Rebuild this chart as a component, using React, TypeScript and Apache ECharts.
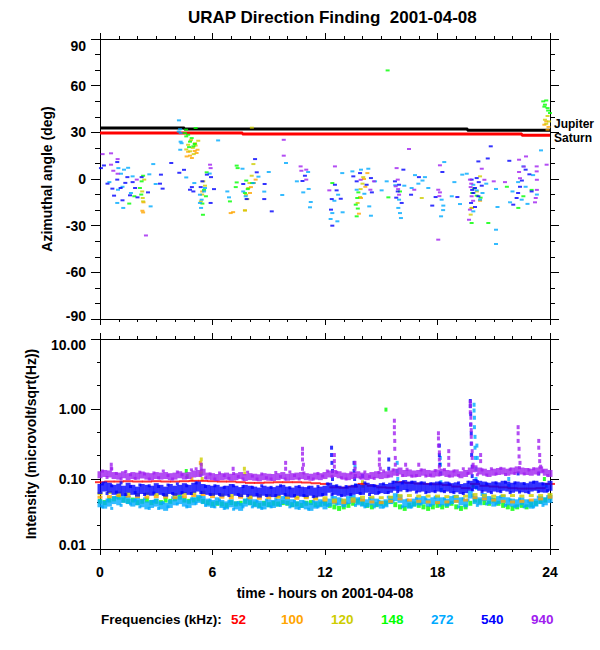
import React, { useEffect, useRef } from "react";
import * as echarts from "echarts";

const TITLE = "URAP Direction Finding  2001-04-08";
const X_NAME = "time - hours on 2001-04-08";
const Y_NAME_TOP = "Azimuthal angle (deg)";
const Y_NAME_BOTTOM = "Intensity (microvolt/sqrt(Hz))";
const LEGEND_TITLE = "Frequencies (kHz):";
const FREQ_LABELS = ["52", "100", "120", "148", "272", "540", "940"];
const FREQ_COLORS = ["#ff0000", "#ffa500", "#cdcd00", "#00ff00", "#00aaff", "#0000ff", "#a020f0"];

// planet tracks (hour, azimuth deg)
const jupiterTrack = [[0, 32.8], [4.5, 32.8], [4.5, 32.1], [19.6, 32.1], [19.6, 31.3], [24, 31.3]];
const saturnTrack = [[0, 29.5], [7.6, 29.5], [7.6, 28.9], [22.5, 28.9], [22.5, 28.2], [24, 28.2]];

// azimuth scatter points (hour, deg)
const az100 = [[4.62,14.5],[4.8,15],[4.9,13.5],[5.2,18.8],[5.15,16.7],[5.05,18],[4.7,17.5],[2.26,-20.4],[2.3,-21.5],[2.32,-15],[6.97,-21.9],[7.1,-21.3],[7.73,-20.2],[8.3,-0.4],[8.2,-2.6],[8.05,-5.2],[8.0,-9],[13.81,-22.3],[13.92,-12.2],[14.08,0],[14.26,3.8],[14.15,-5],[19.82,-18.6],[20.27,-14],[23.7,34.9],[23.87,31.7],[23.8,37],[23.92,33.5],[5.45,-8]];
const az120 = [[4.7,22],[4.8,17.8],[5.07,23],[5.24,24.6],[4.95,20],[5.1,21.5],[4.85,25],[4.6,19],[5.0,16],[2.3,-14.4],[2.28,-12.2],[2.36,-0.4],[2.25,-8],[5.51,-1.5],[5.6,-4.3],[5.38,-14.4],[5.45,-10],[8.18,9.6],[7.91,-5.8],[7.79,-10.1],[7.86,-12.9],[7.73,-20.2],[8.09,2.1],[7.97,-2.6],[8.1,33],[13.87,-11.6],[13.74,-15.4],[14.04,1.2],[13.9,-6.5],[14.0,-3],[17.16,-12.2],[20.27,1.7],[19.82,-18.6],[19.77,-22.9],[20.1,-8],[23.73,38.1],[23.8,35.5],[23.87,40.5],[23.95,37]];
const az148 = [[4.53,29.5],[4.6,27.4],[4.8,24],[4.98,21],[5.1,32.8],[4.59,31.7],[4.89,26.3],[4.7,28.5],[5.05,22.5],[4.75,20.5],[2.22,-1.5],[2.13,-5.8],[2.3,2.1],[1.83,-11.1],[1.56,-15.8],[2.2,-10],[5.69,4.3],[5.46,-15.8],[5.65,-11.1],[5.49,-23],[5.55,-7],[7.29,8.6],[7.34,7],[7.29,-2.2],[7.24,-5.2],[7.73,-9],[7.88,-6.5],[8.12,-2.6],[6.93,-14.4],[7.8,-1],[12.39,-2.6],[13.78,-8.6],[13.72,-12.2],[13.64,-16.5],[13.69,-24],[13.75,-19],[15.38,-11.8],[15.34,69.8],[16.0,-8],[20.09,-10.7],[19.95,-6],[19.85,-9],[19.82,-28.3],[20.3,-12],[20.71,-28.3],[22.58,-11.1],[22.31,-18.6],[23.02,-7],[21.7,-5],[23.64,49.9],[23.73,47.8],[23.87,45.6],[23.7,46.5],[24.0,42.4],[23.8,50.5],[23.9,44]];
const az272 = [[4.21,37.7],[4.27,32],[4.3,29.5],[4.3,24],[4.28,18.8],[4.35,23],[4.2,30.5],[6.3,24.8],[0.98,7],[1.28,6],[1.5,7.2],[1.12,3.4],[2.63,3],[2.84,9.6],[1.24,-18.6],[0.92,-15.4],[2.7,-17.6],[2.97,-3.2],[1.74,1.7],[0.96,-6.9],[1.2,-5],[0.5,-2],[1.65,-9],[4.6,1],[5.33,-10.1],[5.42,-13.3],[5.33,-15.4],[5.39,-18.6],[5.6,-5.8],[5.55,-8],[5.03,-2.6],[5.85,3.5],[7.64,-8],[7.77,-11.1],[7.6,6.6],[8.18,-2.6],[6.88,-11.8],[6.79,-8],[9.72,-10.3],[9.92,10.3],[8.76,-8.1],[9.0,4.5],[8.45,1.5],[11.1,4.5],[11.13,-6.4],[11.24,-14.8],[11.2,-18.2],[10.84,-8.6],[10.5,-1.5],[12.39,-21.9],[12.3,-25.7],[12.66,-27.2],[12.7,-10.1],[12.92,3.8],[12.94,-21.4],[12.5,-14],[13.46,4.9],[13.69,-6.9],[13.92,6],[14.31,6.6],[14.45,-23.6],[14.36,-17.6],[14.67,-1.5],[15.02,-7.3],[15.29,-1.5],[14.1,-9.5],[15.91,-18.6],[16.0,-21.9],[16.05,-25.1],[15.95,-13.3],[16.23,-4.3],[15.75,-4],[16.62,-5.8],[16.98,-3],[17.33,1.2],[17.51,-5.8],[17.2,-1],[16.8,2.5],[18.22,-13.3],[18.31,-17.1],[18.19,-24],[18.36,10.9],[18.3,-20],[18.76,-11.1],[19.2,-16.1],[19.32,2.8],[18.9,-2],[19.56,3.4],[19.91,-3.7],[20.09,-7.3],[20.27,-13.3],[19.91,-20.8],[20.4,-9],[20.6,-3],[21.12,-6.4],[21.12,-32.6],[21.12,-41.8],[21.2,-18],[22.58,8.1],[22.49,-13.3],[21.87,-15],[23.52,18.4],[22.3,-2],[22.0,-8],[22.7,-5],[23.1,2.5],[23.3,-10],[22.8,-16]];
const az540 = [[0.21,8.7],[0.92,10.9],[0.05,7],[0.92,-0.4],[1.46,1.2],[1.74,-2],[0.66,-6.2],[1.1,-5.8],[1.87,-5.8],[2.22,1.2],[1.6,-10.5],[0.75,-10.7],[2.0,-11.8],[2.56,-8.6],[1.2,-13.7],[1.35,-2.5],[0.4,-3],[3.25,2.8],[3.2,-3],[3.34,-6.2],[3.8,10.3],[4.23,4],[4.48,5.9],[5.46,-1.5],[5.37,-5.2],[4.9,-5.2],[4.8,-6.9],[4.98,-8],[5.92,1.2],[6.08,-6.5],[5.7,2.8],[5.9,-15.4],[7.64,-3.2],[7.82,-12.9],[8.27,12.8],[8.36,4.3],[8.78,-3.2],[8.76,-12.9],[9.16,-20.8],[10.8,-1.3],[10.93,2.1],[12.36,-12.9],[12.32,-19.7],[12.39,-30],[12.53,-3.7],[12.62,-7.3],[12.84,-12.7],[13.51,1.7],[13.69,-1.5],[13.87,3.8],[14.22,-3.7],[14.45,0.6],[14.5,-8.6],[15.73,-1.5],[15.95,-3.7],[15.88,-8],[16.09,-15.4],[16.18,6],[15.8,-12],[16.59,-10.1],[17.01,1.2],[17.9,-11.6],[17.72,-17.1],[18.26,4.5],[19.06,-11.6],[20.18,11.3],[20.68,13.2],[20.84,21],[19.82,-0.4],[20.0,-5.8],[20.18,-11.1],[19.91,-9],[20.36,-4.3],[19.79,-15.4],[20.09,0.6],[20.0,-18],[19.85,-7],[20.2,-2],[21.83,11.7],[22.22,-12.2],[22.3,-9],[22.4,-5],[22.04,-16.5],[22.7,6],[22.9,3],[23.02,-8],[22.5,-1]];
const az940 = [[0.14,16],[0.59,16.5],[0.94,12.8],[0.59,9.2],[0.71,5.3],[0.94,3.4],[1.96,-0.4],[2.45,-36.3],[5.87,9.2],[5.9,7],[9.8,25.2],[9.8,15],[10.7,8.1],[11.0,6],[11.0,-0.4],[10.74,5.3],[12.53,8.1],[12.23,-7.3],[14.42,-6.9],[14.61,-1.5],[13.9,-0.5],[15.82,7],[15.88,-0.4],[15.77,-4.7],[15.95,-10.1],[15.9,-6.5],[16.76,-6.9],[16.48,19.3],[18.04,-6.9],[18.13,-8.6],[18.1,-11],[18.04,-39],[18.13,8.8],[19.73,-0.4],[19.77,-5.2],[19.82,-11.1],[19.73,-19.7],[19.68,-26.2],[20.36,6.6],[19.9,-14],[19.8,-3],[20.5,-0.5],[22.35,12.4],[22.72,14.5],[22.6,8],[23.29,8.1],[23.29,4.9],[23.3,-0.5],[23.3,-7],[23.24,-12.2],[23.2,-15],[22.35,4.5],[22.4,0.5],[23.82,9.2],[21.0,-1.5],[21.6,-2]];

// intensity, sampled every 0.25 h from 0 h (microvolt/sqrt(Hz))
const int940 = [0.115,0.12,0.118,0.112,0.11,0.115,0.108,0.112,0.11,0.114,0.11,0.108,0.112,
  0.11,0.112,0.108,0.11,0.115,0.11,0.112,0.118,0.12,0.125,0.11,0.108,
  0.105,0.108,0.11,0.106,0.108,0.112,0.105,0.108,0.106,0.104,0.108,0.106,
  0.105,0.108,0.112,0.106,0.108,0.11,0.112,0.108,0.106,0.11,0.108,0.112,
  0.118,0.12,0.115,0.11,0.108,0.112,0.115,0.11,0.108,0.112,0.115,0.112,
  0.115,0.118,0.125,0.13,0.12,0.122,0.118,0.12,0.125,0.12,0.118,0.122,
  0.125,0.12,0.118,0.122,0.115,0.12,0.13,0.14,0.13,0.125,0.12,0.125,
  0.128,0.13,0.125,0.13,0.135,0.13,0.128,0.125,0.13,0.135,0.125,0.12];
const int540 = [0.072,0.078,0.075,0.07,0.073,0.068,0.075,0.07,0.066,0.072,0.07,0.068,0.074,
  0.07,0.066,0.072,0.068,0.07,0.074,0.07,0.075,0.078,0.072,0.07,0.068,
  0.07,0.066,0.068,0.072,0.068,0.065,0.07,0.068,0.066,0.064,0.068,0.066,
  0.065,0.068,0.07,0.066,0.064,0.068,0.066,0.065,0.068,0.064,0.066,0.068,
  0.075,0.07,0.068,0.066,0.068,0.07,0.072,0.07,0.075,0.072,0.07,0.074,
  0.072,0.075,0.08,0.078,0.082,0.078,0.08,0.076,0.078,0.074,0.076,0.078,
  0.076,0.078,0.074,0.076,0.072,0.074,0.08,0.085,0.08,0.078,0.075,0.078,
  0.076,0.08,0.078,0.075,0.078,0.076,0.074,0.078,0.08,0.076,0.075,0.08];
const int272 = [0.045,0.043,0.046,0.05,0.048,0.052,0.05,0.046,0.048,0.045,0.042,0.044,0.046,
  0.042,0.04,0.044,0.048,0.05,0.046,0.044,0.048,0.052,0.05,0.046,0.044,
  0.048,0.044,0.042,0.045,0.042,0.04,0.046,0.048,0.045,0.043,0.042,0.045,
  0.044,0.046,0.05,0.048,0.045,0.042,0.044,0.042,0.04,0.043,0.045,0.042,
  0.046,0.05,0.048,0.045,0.05,0.052,0.048,0.046,0.045,0.048,0.046,0.043,
  0.045,0.05,0.055,0.052,0.045,0.043,0.046,0.048,0.05,0.046,0.048,0.05,
  0.048,0.046,0.05,0.052,0.048,0.045,0.06,0.05,0.048,0.055,0.05,0.046,
  0.05,0.052,0.048,0.046,0.045,0.048,0.045,0.043,0.046,0.05,0.048,0.052];
const int148 = [0.048,0.046,0.05,0.052,0.055,0.05,0.048,0.05,0.046,0.048,0.05,0.046,0.048,
  0.046,0.05,0.048,0.052,0.055,0.05,0.048,0.05,0.052,0.048,0.046,0.044,
  0.045,0.044,0.042,0.046,0.044,0.045,0.048,0.046,0.044,0.042,0.045,0.043,
  0.045,0.044,0.046,0.045,0.043,0.044,0.042,0.045,0.046,0.043,0.044,0.045,
  0.042,0.04,0.038,0.04,0.042,0.045,0.048,0.045,0.042,0.04,0.043,0.045,
  0.045,0.048,0.043,0.04,0.038,0.042,0.044,0.042,0.04,0.038,0.04,0.042,
  0.04,0.042,0.045,0.04,0.038,0.04,0.045,0.05,0.048,0.046,0.045,0.05,
  0.045,0.042,0.04,0.038,0.04,0.042,0.04,0.043,0.045,0.048,0.05,0.055];
// intensity scatter between samples, every 0.25 h from 0.125 h
const int940b = [0.13,0.105,0.14,0.12,0.1,0.128,0.115,0.102,0.125,0.118,0.1,0.122,
  0.104,0.13,0.112,0.1,0.126,0.115,0.105,0.135,0.14,0.112,0.104,0.118,
  0.1,0.122,0.112,0.102,0.12,0.108,0.1,0.125,0.11,0.1,0.118,0.104,
  0.1,0.124,0.108,0.1,0.126,0.112,0.1,0.122,0.105,0.1,0.12,0.11,
  0.13,0.108,0.125,0.104,0.1,0.122,0.112,0.104,0.126,0.108,0.102,0.124,
  0.13,0.11,0.135,0.115,0.112,0.138,0.11,0.112,0.135,0.11,0.114,0.132,
  0.115,0.136,0.11,0.13,0.112,0.14,0.12,0.15,0.115,0.135,0.114,0.14,
  0.118,0.142,0.116,0.138,0.12,0.145,0.118,0.135,0.14,0.118,0.13,0.112];
const int540b = [0.085,0.062,0.08,0.065,0.088,0.06,0.078,0.064,0.082,0.06,0.08,0.063,
  0.078,0.06,0.082,0.062,0.085,0.064,0.08,0.062,0.088,0.064,0.078,0.06,
  0.08,0.06,0.076,0.058,0.08,0.06,0.078,0.058,0.076,0.06,0.08,0.058,
  0.076,0.058,0.08,0.06,0.075,0.058,0.078,0.058,0.076,0.056,0.078,0.06,
  0.085,0.06,0.08,0.058,0.078,0.06,0.082,0.062,0.088,0.06,0.08,0.064,
  0.085,0.064,0.09,0.066,0.088,0.068,0.09,0.065,0.088,0.064,0.085,0.066,
  0.088,0.066,0.085,0.064,0.088,0.062,0.09,0.07,0.092,0.066,0.085,0.064,
  0.088,0.066,0.09,0.064,0.088,0.065,0.086,0.064,0.09,0.066,0.085,0.068];
const int272b = [0.04,0.05,0.038,0.055,0.042,0.056,0.044,0.05,0.04,0.052,0.038,0.048,
  0.038,0.046,0.04,0.054,0.044,0.055,0.04,0.052,0.045,0.056,0.042,0.05,
  0.04,0.05,0.038,0.048,0.037,0.046,0.04,0.052,0.04,0.048,0.038,0.05,
  0.04,0.052,0.042,0.055,0.04,0.048,0.038,0.047,0.037,0.048,0.04,0.047,
  0.042,0.055,0.044,0.05,0.045,0.056,0.042,0.052,0.04,0.053,0.04,0.048,
  0.04,0.055,0.048,0.058,0.04,0.05,0.04,0.053,0.044,0.052,0.042,0.055,
  0.042,0.052,0.044,0.056,0.04,0.052,0.05,0.058,0.042,0.06,0.044,0.052,
  0.044,0.056,0.042,0.05,0.04,0.052,0.04,0.048,0.04,0.055,0.042,0.056];
// intensity, sampled every 0.5 h from 0 h
const int52 = [0.09,0.092,0.092,0.093,0.092,0.092,0.093,0.092,0.092,0.093,0.094,0.094,0.093,0.092,0.092,0.09,0.088,0.088,0.089,0.09,0.09,0.09,0.089,0.087,0.085,0.076,0.075,0.078,0.085,0.08,0.076,0.075,0.09,0.088,0.086,0.085,0.084,0.082,0.078,0.074,0.085,0.08,0.078,0.076,0.074,0.073,0.073,0.074,0.085];
const int100 = [0.055,0.056,0.058,0.057,0.056,0.055,0.056,0.055,0.054,0.056,0.058,0.06,0.056,0.055,0.054,0.055,0.054,0.053,0.054,0.055,0.054,0.053,0.054,0.052,0.05,0.047,0.046,0.048,0.05,0.047,0.046,0.048,0.052,0.05,0.048,0.047,0.046,0.047,0.048,0.05,0.054,0.052,0.05,0.048,0.047,0.048,0.05,0.052,0.055];
const int120 = [0.062,0.064,0.063,0.062,0.06,0.061,0.06,0.059,0.06,0.062,0.063,0.065,0.06,0.059,0.058,0.058,0.057,0.058,0.058,0.057,0.057,0.056,0.056,0.055,0.054,0.05,0.05,0.052,0.055,0.055,0.054,0.055,0.058,0.058,0.057,0.057,0.057,0.056,0.056,0.057,0.06,0.058,0.057,0.058,0.058,0.057,0.058,0.058,0.06];

// bursts (hour, intensity)
const spikes940 = [[0.6,0.16],[0.6,0.14],[5.4,0.16],[5.4,0.14],[7.1,0.14],[9.9,0.17],[9.9,0.14],[10.8,0.27],[10.8,0.23],[10.8,0.19],[10.85,0.16],[10.8,0.14],[12.5,0.22],[12.5,0.18],[12.5,0.15],[13.6,0.17],[13.6,0.14],[14.9,0.24],[14.9,0.19],[14.9,0.16],[14.95,0.14],[15.7,0.68],[15.7,0.55],[15.7,0.45],[15.72,0.35],[15.72,0.27],[15.75,0.2],[15.75,0.16],[16.3,0.16],[17.0,0.16],[18.05,0.45],[18.05,0.38],[18.05,0.3],[18.1,0.24],[18.1,0.19],[18.1,0.15],[18.6,0.25],[18.6,0.2],[18.6,0.16],[19.75,1.25],[19.75,1.1],[19.75,0.9],[19.78,0.75],[19.78,0.6],[19.8,0.5],[19.8,0.4],[19.82,0.32],[19.85,0.25],[19.85,0.2],[19.9,0.16],[20.3,0.22],[20.3,0.18],[22.3,0.55],[22.3,0.45],[22.3,0.35],[22.35,0.27],[22.35,0.21],[22.4,0.17],[23.4,0.35],[23.4,0.28],[23.45,0.22],[23.45,0.18],[23.5,0.15]];
const spikes540 = [[12.35,0.28],[12.35,0.22],[12.37,0.17],[12.4,0.13],[12.4,0.1],[13.55,0.17],[13.55,0.13],[13.58,0.1],[15.4,0.19],[15.4,0.14],[14.0,0.11],[18.1,0.3],[18.1,0.22],[18.12,0.16],[18.15,0.12],[19.75,1.3],[19.75,1.1],[19.77,0.85],[19.77,0.6],[19.8,0.45],[19.8,0.32],[19.82,0.22],[19.85,0.15],[19.85,0.11],[22.3,0.12],[23.4,0.12]];
const spikes272 = [[13.6,0.15],[13.6,0.11],[13.62,0.08],[15.85,0.17],[15.85,0.13],[15.88,0.1],[15.88,0.075],[18.15,0.2],[18.15,0.16],[18.18,0.12],[18.18,0.09],[18.2,0.07],[19.95,1.15],[19.95,0.95],[19.97,0.75],[19.97,0.55],[20.0,0.4],[20.0,0.28],[20.02,0.2],[20.05,0.14],[20.05,0.1],[20.08,0.075],[20.1,0.3],[20.12,0.2],[21.8,0.1],[21.8,0.08],[23.8,0.08]];
const spikes148 = [[4.6,0.13],[4.65,0.11],[5.4,0.12],[15.25,0.98],[19.9,0.08],[23.7,0.1]];
const spikes120 = [[5.4,0.19],[5.4,0.16],[5.42,0.13],[5.45,0.1],[7.7,0.14],[7.72,0.12],[14.0,0.09],[14.02,0.08]];
const spikes100 = [[5.35,0.17],[5.35,0.12],[4.9,0.1]];

const FONT = "Liberation Sans";
const txt = { fontFamily: FONT, fontWeight: "bold" as const, fontSize: 14, color: "#000" };

export default function App() {
  const ref = useRef<HTMLDivElement>(null);
  useEffect(() => {
    document.body.style.margin = "0";
    if (!ref.current) return;
    const chart = echarts.init(ref.current, undefined, { renderer: "svg" });

    const quarter = (arr: number[]) => arr.map((v, i) => [i * 0.25, v]);
    const quarterMid = (arr: number[]) => arr.map((v, i) => [0.125 + i * 0.25, v]);
    const half = (arr: number[]) => arr.map((v, i) => [i * 0.5, v]);
    const black = { color: "#000", width: 1 };

    const xBase = (gridIndex: number, position: "top" | "bottom", labels: boolean) => ({
      type: "value", gridIndex, position, min: 0, max: 24, interval: 6,
      axisLine: { show: true, onZero: false, lineStyle: black },
      axisTick: { show: true, length: 6, lineStyle: black },
      minorTick: { show: true, splitNumber: 6, length: 3, lineStyle: black },
      splitLine: { show: false },
      axisLabel: labels ? { show: true, margin: 16, ...txt } : { show: false },
      ...(labels ? { name: X_NAME, nameLocation: "middle", nameGap: 37, nameTextStyle: txt } : {}),
    });

    const angleSeries = [
      { d: az100, c: FREQ_COLORS[1] }, { d: az120, c: FREQ_COLORS[2] },
      { d: az148, c: FREQ_COLORS[3] }, { d: az272, c: FREQ_COLORS[4] },
      { d: az540, c: FREQ_COLORS[5] }, { d: az940, c: FREQ_COLORS[6] },
    ].map((s) => ({
      type: "scatter", xAxisIndex: 0, yAxisIndex: 0, data: s.d, symbol: "rect",
      symbolSize: [4, 2], itemStyle: { color: s.c }, z: 3, silent: true,
    }));

    const intSeries = [
      { d: quarter(int148), c: FREQ_COLORS[3], s: [4, 5] },
      { d: quarter(int272), c: FREQ_COLORS[4], s: [5, 8] },
      { d: quarterMid(int272b), c: FREQ_COLORS[4], s: [3, 3] },
      { d: half(int100), c: FREQ_COLORS[1], s: [5, 3] },
      { d: half(int120), c: FREQ_COLORS[2], s: [5, 3] },
      { d: spikes148, c: FREQ_COLORS[3], s: [3, 4] },
      { d: spikes272, c: FREQ_COLORS[4], s: [3, 4] },
      { d: spikes100, c: FREQ_COLORS[1], s: [3, 4] },
      { d: spikes120, c: FREQ_COLORS[2], s: [3, 4] },
      { d: half(int52), c: FREQ_COLORS[0], s: [10, 2] },
      { d: quarter(int540), c: FREQ_COLORS[5], s: [5, 10] },
      { d: quarterMid(int540b), c: FREQ_COLORS[5], s: [3, 3] },
      { d: spikes540, c: FREQ_COLORS[5], s: [3, 4] },
      { d: quarter(int940), c: FREQ_COLORS[6], s: [5, 7] },
      { d: quarterMid(int940b), c: FREQ_COLORS[6], s: [3, 3] },
      { d: spikes940, c: FREQ_COLORS[6], s: [3, 4] },
    ].map((s) => ({
      type: "scatter", xAxisIndex: 2, yAxisIndex: 2, data: s.d, symbol: "rect",
      symbolSize: s.s, itemStyle: { color: s.c }, silent: true,
    }));

    const trackLabel = (name: string, dy: number) => ({
      show: true, formatter: name, distance: 4, offset: [0, dy], ...txt, fontSize: 12,
    });

    const option: any = {
      animation: false,
      backgroundColor: "#fff",
      title: {
        text: TITLE, left: 183, top: 4,
        textStyle: { fontFamily: FONT, fontWeight: "bold", fontSize: 17, color: "#000" },
      },
      grid: [
        { left: 100, top: 39, width: 450, height: 280 },
        { left: 100, top: 339, width: 450, height: 210 },
      ],
      xAxis: [
        xBase(0, "bottom", false), xBase(0, "top", false),
        xBase(1, "bottom", true), xBase(1, "top", false),
      ],
      yAxis: [
        {
          type: "value", gridIndex: 0, position: "left", min: -90, max: 90, interval: 30,
          axisLine: { show: true, onZero: false, lineStyle: black },
          axisTick: { show: true, length: 9, lineStyle: black },
          minorTick: { show: true, splitNumber: 3, length: 5, lineStyle: black },
          splitLine: { show: false },
          axisLabel: {
            margin: 14, ...txt,
            formatter: (v: number) => (v === 90 ? `{lo|${v}}` : v === -90 ? `{hi|${v}}` : `${v}`),
            rich: { lo: { ...txt, padding: [14, 0, 0, 0] }, hi: { ...txt, padding: [0, 0, 6, 0] } },
          },
          name: Y_NAME_TOP, nameLocation: "middle", nameRotate: 90, nameGap: 46, nameTextStyle: txt,
        },
        {
          type: "value", gridIndex: 0, position: "right", min: -90, max: 90, interval: 30,
          axisLine: { show: true, onZero: false, lineStyle: black },
          axisTick: { show: true, length: 9, lineStyle: black },
          minorTick: { show: true, splitNumber: 3, length: 5, lineStyle: black },
          splitLine: { show: false }, axisLabel: { show: false },
        },
        {
          type: "log", logBase: 10, gridIndex: 1, position: "left", min: 0.01, max: 10,
          axisLine: { show: true, onZero: false, lineStyle: black },
          axisTick: { show: false }, minorTick: { show: false }, splitLine: { show: false },
          axisLabel: {
            margin: 14, ...txt,
            formatter: (v: number) => {
              const s = v.toFixed(2);
              return v > 5 ? `{lo|${s}}` : v < 0.02 ? `{hi|${s}}` : s;
            },
            rich: { lo: { ...txt, padding: [12, 0, 0, 0] }, hi: { ...txt, padding: [0, 0, 8, 0] } },
          },
          name: Y_NAME_BOTTOM, nameLocation: "middle", nameRotate: 90, nameGap: 62, nameTextStyle: txt,
        },
        {
          type: "value", gridIndex: 1, position: "left", min: -2, max: 1, interval: 1,
          axisLine: { show: false },
          axisTick: { show: true, length: 9, lineStyle: black },
          minorTick: { show: true, splitNumber: 3, length: 3, lineStyle: black },
          splitLine: { show: false }, axisLabel: { show: false },
        },
        {
          type: "value", gridIndex: 1, position: "right", min: -2, max: 1, interval: 1,
          axisLine: { show: true, onZero: false, lineStyle: black },
          axisTick: { show: true, length: 9, lineStyle: black },
          minorTick: { show: true, splitNumber: 3, length: 3, lineStyle: black },
          splitLine: { show: false }, axisLabel: { show: false },
        },
      ],
      series: [
        {
          type: "line", name: "Jupiter", xAxisIndex: 0, yAxisIndex: 0, data: jupiterTrack,
          showSymbol: false, lineStyle: { color: "#000", width: 3 }, itemStyle: { color: "#000" },
          endLabel: trackLabel("Jupiter", -6), z: 2, silent: true,
        },
        {
          type: "line", name: "Saturn", xAxisIndex: 0, yAxisIndex: 0, data: saturnTrack,
          showSymbol: false, lineStyle: { color: "#ff0000", width: 3 }, itemStyle: { color: "#ff0000" },
          endLabel: trackLabel("Saturn", 3), z: 2, silent: true,
        },
        ...angleSeries,
        ...intSeries,
      ],
      graphic: [
        { type: "text", left: 101, top: 612, style: { text: LEGEND_TITLE, fill: "#000", font: `bold 13.5px "${FONT}"` } },
        ...FREQ_LABELS.map((t, i) => ({
          type: "text", left: 231 + i * 50, top: 612,
          style: { text: t, fill: FREQ_COLORS[i], font: `bold 13.5px "${FONT}"` },
        })),
      ],
    };
    chart.setOption(option);
    return () => chart.dispose();
  }, []);
  return <div ref={ref} style={{ width: 600, height: 650 }} />;
}
